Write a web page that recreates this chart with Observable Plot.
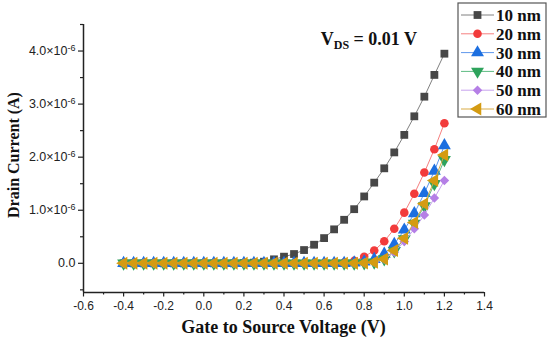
<!DOCTYPE html>
<html>
<head>
<meta charset="utf-8">
<script src="https://cdn.jsdelivr.net/npm/d3@7"></script>
<script src="https://cdn.jsdelivr.net/npm/@observablehq/plot@0.6"></script>
<style>
  html, body { margin: 0; padding: 0; background: #fff; }
  #chart { width: 550px; height: 339px; }
</style>
</head>
<body>
<div id="chart"></div>
<script>
// Gate-to-source voltage (V)
const voltage = [-0.4, -0.35, -0.3, -0.25, -0.2, -0.15, -0.1, -0.05, 0, 0.05, 0.1, 0.15, 0.2, 0.25, 0.3, 0.35, 0.4, 0.45, 0.5, 0.55, 0.6, 0.65, 0.7, 0.75, 0.8, 0.85, 0.9, 0.95, 1.0, 1.05, 1.1, 1.15, 1.2];

// Drain current in units of 1e-6 A
const nm10 = [0, 0, 0, 0, 0, 0, 0, 0, 0, 0, 0, 0, 0.005, 0.012, 0.03, 0.075, 0.125, 0.175, 0.25, 0.35, 0.475, 0.64, 0.82, 1.02, 1.26, 1.52, 1.79, 2.09, 2.42, 2.77, 3.14, 3.55, 3.95];
const nm20 = [0, 0, 0, 0, 0, 0, 0, 0, 0, 0, 0, 0, 0, 0, 0, 0, 0, 0, 0, 0, 0, 0.005, 0.015, 0.045, 0.125, 0.24, 0.415, 0.65, 0.955, 1.31, 1.71, 2.15, 2.64];
const nm30 = [0, 0, 0, 0, 0, 0, 0, 0, 0, 0, 0, 0, 0, 0, 0, 0, 0, 0, 0, 0, 0, 0, 0, 0.01, 0.03, 0.075, 0.175, 0.36, 0.63, 0.94, 1.32, 1.74, 2.22];
const nm40 = [0, 0, 0, 0, 0, 0, 0, 0, 0, 0, 0, 0, 0, 0, 0, 0, 0, 0, 0, 0, 0, 0, 0, 0, 0.005, 0.02, 0.08, 0.23, 0.46, 0.75, 1.08, 1.5, 1.95];
const nm50 = [0, 0, 0, 0, 0, 0, 0, 0, 0, 0, 0, 0, 0, 0, 0, 0, 0, 0, 0, 0, 0, 0, 0, 0, 0.004, 0.02, 0.075, 0.21, 0.41, 0.65, 0.91, 1.23, 1.56];
const nm60 = [0, 0, 0, 0, 0, 0, 0, 0, 0, 0, 0, 0, 0, 0, 0, 0, 0, 0, 0, 0, 0, 0, 0, 0, 0.005, 0.02, 0.08, 0.24, 0.47, 0.77, 1.12, 1.56, 2.04];

const seriesNames = ["10 nm", "20 nm", "30 nm", "40 nm", "50 nm", "60 nm"];
const seriesValues = [nm10, nm20, nm30, nm40, nm50, nm60];
const markerColors = ["#474747", "#f23b3b", "#1c6fe0", "#2ea35c", "#b57fe6", "#d49b12"];
const lineColors = ["#808080", "#f57f7f", "#5f98ec", "#5dbb82", "#c7a2ee", "#d9ab45"];

const xTicks = [-0.6, -0.4, -0.2, 0.0, 0.2, 0.4, 0.6, 0.8, 1.0, 1.2, 1.4];
const xMinorTicks = [-0.5, -0.3, -0.1, 0.1, 0.3, 0.5, 0.7, 0.9, 1.1, 1.3];
const yTicks = [0, 1, 2, 3, 4];
const yMinorTicks = [-0.5, 0.5, 1.5, 2.5, 3.5, 4.5];

// custom marker shapes
const triDown = { draw(ctx, size) { const y = -Math.sqrt(size / (Math.sqrt(3) * 3)); const s = Math.sqrt(3); ctx.moveTo(0, -y * 2); ctx.lineTo(-s * y, y); ctx.lineTo(s * y, y); ctx.closePath(); } };
const triLeft = { draw(ctx, size) { const y = -Math.sqrt(size / (Math.sqrt(3) * 3)); const s = Math.sqrt(3); ctx.moveTo(y * 2, 0); ctx.lineTo(-y, -s * y); ctx.lineTo(-y, s * y); ctx.closePath(); } };
const symbols = [d3.symbolSquare, d3.symbolCircle, d3.symbolTriangle, triDown, d3.symbolDiamond2, triLeft];
const symbolR = [4.4, 4.3, 4.8, 4.8, 4.3, 4.8];

const rows = seriesNames.map((name, i) => voltage.map((v, j) => ({ series: name, v, i: seriesValues[i][j] })));

const marks = [];
rows.forEach((data, k) => {
  marks.push(Plot.line(data, { x: "v", y: "i", stroke: lineColors[k], strokeWidth: 1 }));
  marks.push(Plot.dot(data, { x: "v", y: "i", symbol: symbols[k], r: symbolR[k], fill: markerColors[k], stroke: "none" }));
});

const serif = "'Liberation Serif', 'Times New Roman', serif";
const sans = "'Liberation Sans', Arial, sans-serif";

const chart = Plot.plot({
  width: 550,
  height: 339,
  marginLeft: 83,
  marginRight: 66,
  marginTop: 24,
  marginBottom: 47,
  style: { fontFamily: sans, fontSize: "12px", color: "#222", background: "#fff" },
  x: { domain: [-0.6, 1.4] },
  y: { domain: [-0.55, 4.5] },
  marks: [
    Plot.axisX({ ticks: xTicks, tickSize: 4.5, tickPadding: 4, tickFormat: d => d.toFixed(1), label: null, fontSize: 12, stroke: "#222", strokeWidth: 1.2 }),
    Plot.axisX({ ticks: xMinorTicks, tickSize: 2.5, tickFormat: () => "", label: null, stroke: "#222", strokeWidth: 1.2 }),
    Plot.axisY({ ticks: yTicks, tickSize: 5, tickPadding: 3, tickFormat: d => d === 0 ? "0.0" : d.toFixed(1) + "×10", label: null, fontSize: 12.5, stroke: "#222", strokeWidth: 1.2 }),
    Plot.axisY({ ticks: yMinorTicks, tickSize: 3, tickFormat: () => "", label: null, stroke: "#222", strokeWidth: 1.2 }),
    Plot.ruleX([-0.6], { stroke: "#222", strokeWidth: 1.5 }),
    Plot.ruleY([-0.55], { stroke: "#222", strokeWidth: 1.5 }),
    ...marks
  ]
});

document.getElementById("chart").appendChild(chart);

const svg = d3.select(chart);
// superscript exponents on y tick labels
svg.selectAll("text").filter(function () { return this.textContent.endsWith("×10"); }).each(function () {
  const t = d3.select(this);
  const base = this.textContent;
  const target = t.select("tspan").empty() ? t : t.select("tspan");
  target.text(base);
  target.append("tspan").attr("dy", "-0.5em").attr("font-size", "9px").text("-6");
});

const xs = chart.scale("x"), ys = chart.scale("y");
const [x0, x1] = xs.range, [y0, y1] = ys.range;

// axis titles
svg.append("text")
  .attr("x", (x0 + x1) / 2).attr("y", 333)
  .attr("text-anchor", "middle")
  .attr("font-family", serif).attr("font-weight", "bold").attr("font-size", "18px").attr("fill", "#111")
  .text("Gate to Source Voltage (V)");
svg.append("text")
  .attr("transform", `translate(19,${(y0 + y1) / 2 - 3}) rotate(-90)`)
  .attr("text-anchor", "middle")
  .attr("font-family", serif).attr("font-weight", "bold").attr("font-size", "16px").attr("fill", "#111")
  .text("Drain Current (A)");

// V_DS annotation
const ann = svg.append("text")
  .attr("x", xs.apply(0.826)).attr("y", ys.apply(4.1))
  .attr("text-anchor", "middle")
  .attr("font-family", serif).attr("font-weight", "bold").attr("font-size", "18px").attr("fill", "#111");
ann.append("tspan").text("V");
ann.append("tspan").attr("dy", "4").attr("font-size", "12px").text("DS");
ann.append("tspan").attr("dy", "-4").text(" = 0.01 V");

// legend box
const lg = svg.append("g").attr("transform", "translate(458,3)");
lg.append("rect").attr("width", 88).attr("height", 114).attr("fill", "#fff").attr("stroke", "#555").attr("stroke-width", 1.2);
seriesNames.forEach((name, k) => {
  const cy = 12 + k * 18.8;
  lg.append("line").attr("x1", 3).attr("x2", 36).attr("y1", cy).attr("y2", cy).attr("stroke", lineColors[k]).attr("stroke-width", 1);
  lg.append("path").attr("transform", `translate(19.5,${cy})`).attr("d", d3.symbol(symbols[k], Math.PI * symbolR[k] * symbolR[k])()).attr("fill", markerColors[k]);
  lg.append("text").attr("x", 38).attr("y", cy).attr("dy", "0.35em").attr("text-anchor", "start").attr("font-family", serif).attr("font-weight", "bold").attr("font-size", "17px").attr("fill", "#111").text(name);
});
</script>
</body>
</html>
